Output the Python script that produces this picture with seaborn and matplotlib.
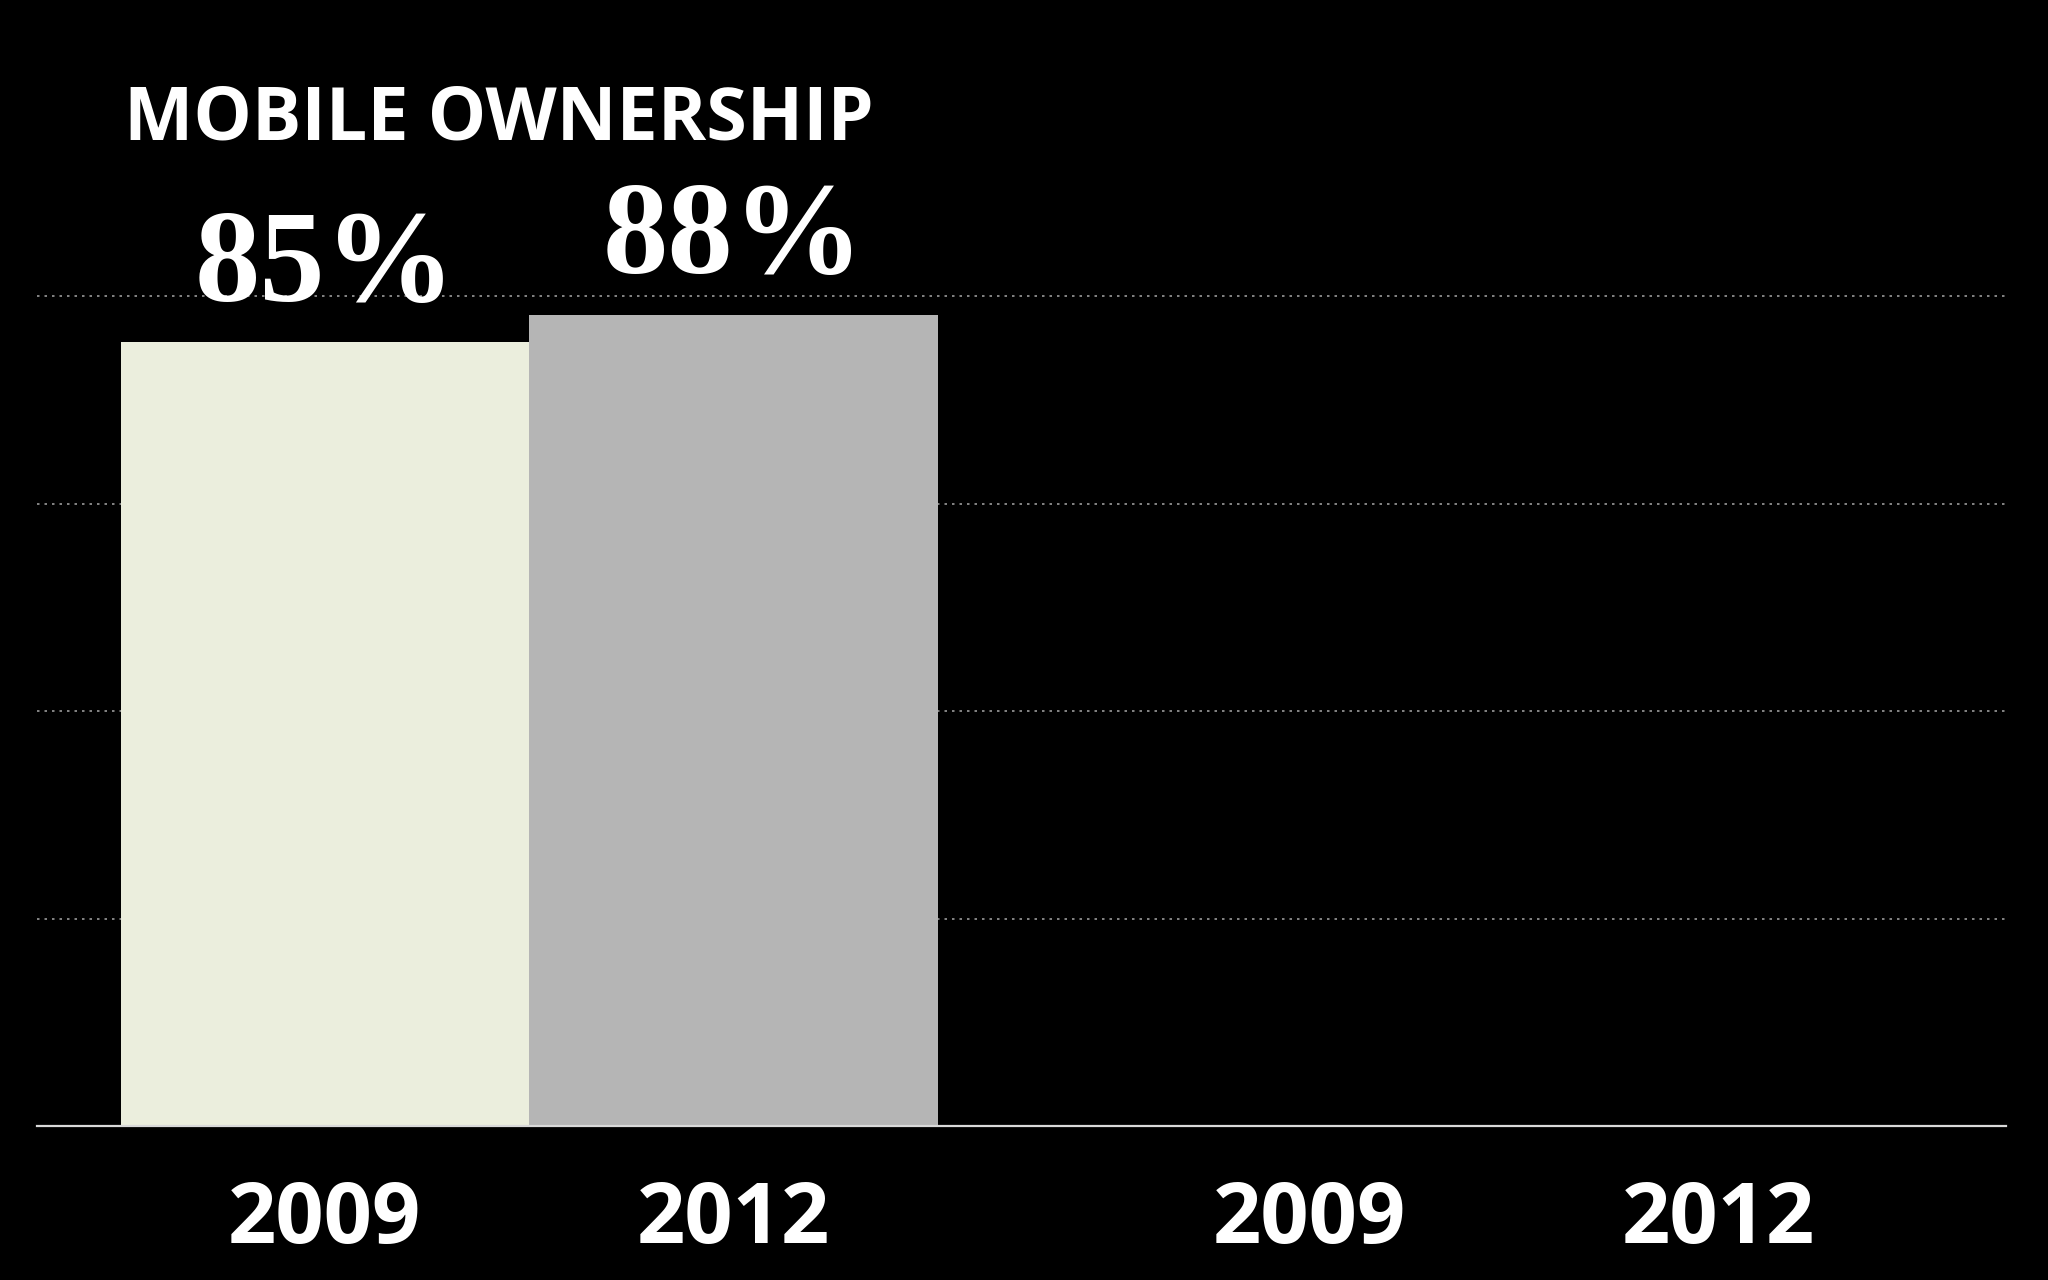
import numpy as np
import pandas as pd
import matplotlib
matplotlib.use("Agg")
import matplotlib.pyplot as plt
import seaborn as sns

# Dữ liệu
groups = ["MOBILE OWNERSHIP", ""]
years = ["2009", "2012"]
ownership = [85, 88]          # nhóm 1
second_group = [np.nan, np.nan]  # nhóm 2 để trống
bar_colors = ["#EBEEDD", "#B5B5B5"]
grid_ticks = [0, 22.5, 45, 67.5, 90]

df = pd.DataFrame({
    "Group": [groups[0]] * 2 + [groups[1]] * 2,
    "Year": years * 2,
    "Value": ownership + second_group,
})

sns.set_theme(style="white")
plt.rcParams["font.family"] = ["Open Sans", "DejaVu Sans"]

fig = plt.figure(figsize=(20.48, 12.8), dpi=100, facecolor="black")
ax = fig.add_axes([0.018, 0.1203, 0.9615, 0.7203])
ax.set_facecolor("black")

bar_width = 0.83
sns.barplot(
    data=df, x="Group", y="Value", hue="Year",
    order=groups, hue_order=years, palette=bar_colors,
    width=bar_width, dodge=True, linewidth=0, saturation=1,
    legend=False, ax=ax,
)

ax.set_xlim(-0.5, 1.5)
ax.set_ylim(0, 100)

# lưới chấm ngang
ax.set_yticks(grid_ticks)
ax.yaxis.grid(True, linestyle=(0, (1.5, 3)), color="#9a9a9a", linewidth=1.2)
ax.set_axisbelow(True)
ax.tick_params(axis="y", length=0, labelleft=False)

for side in ["top", "right", "left"]:
    ax.spines[side].set_visible(False)
ax.spines["bottom"].set_color("#d9d9d9")
ax.spines["bottom"].set_linewidth(1.6)

# nhãn năm dưới mỗi cột
centers = []
labels = []
for gi in range(len(groups)):
    for yi, yr in enumerate(years):
        centers.append(gi + (yi - 0.5) * bar_width / 2)
        labels.append(yr)
ax.set_xticks(centers)
ax.set_xticklabels(labels, fontsize=61, fontweight="bold", color="white")
ax.tick_params(axis="x", length=0, pad=38)
ax.set_xlabel("")
ax.set_ylabel("")

# nhãn phần trăm trên cột
for yi, val in enumerate(ownership):
    ax.annotate(f"{val}%", xy=(centers[yi], val), xytext=(0, 30),
                textcoords="offset points", ha="center", va="baseline",
                fontsize=94, fontweight="bold", color="white",
                family=["Liberation Serif", "DejaVu Serif"])

fig.text(124 / 2048, 1 - 140 / 1280, groups[0], fontsize=53, fontweight="bold",
         color="white", ha="left", va="baseline")

fig.savefig("out.png", dpi=100, facecolor="black")
